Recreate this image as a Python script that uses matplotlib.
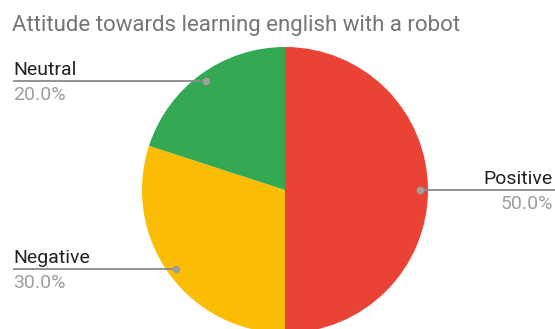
import matplotlib.pyplot as plt
import numpy as np

# ── Data ──────────────────────────────────────────────────────
labels  = ["Positive", "Negative", "Neutral"]
values  = [50.0, 30.0, 20.0]
colors  = ["#EA4335", "#FBBC04", "#34A853"]

W, H   = 555, 329
CX, CY = 285, H - 190
R      = 143

plt.rcParams["font.family"] = ["Roboto", "DejaVu Sans"]

fig = plt.figure(figsize=(W / 100, H / 100), dpi=100)
ax = fig.add_axes([0, 0, 1, 1])

wedges, _ = ax.pie(values, colors=colors, startangle=90, counterclock=False,
                   center=(CX, CY), radius=R,
                   wedgeprops=dict(linewidth=0))

ax.set_xlim(0, W)
ax.set_ylim(0, H)
ax.set_aspect("equal")
ax.axis("off")

# ── Leader lines + labels ─────────────────────────────────────
total = sum(values)
start = 90.0
for lab, val in zip(labels, values):
    sweep = 360 * val / total
    mid = np.deg2rad(start - sweep / 2)
    start -= sweep
    px = CX + 0.945 * R * np.cos(mid)
    py = CY + 0.945 * R * np.sin(mid)
    if px > CX:
        x_end, ha, tx = W, "right", W - 2
    else:
        x_end, ha, tx = 13, "left", 13
    ax.plot([px, x_end], [py, py], color="#8a8a8a", lw=1.3, solid_capstyle="butt")
    ax.plot(px, py, "o", ms=5.5, color="#9e9e9e", mec="none")
    ax.text(tx, py + 6, lab, ha=ha, va="baseline", fontsize=14, color="#222222")
    ax.text(tx, py - 19, f"{val:.1f}%", ha=ha, va="baseline", fontsize=14,
            color="#9e9e9e")

fig.text(12 / W, 1 - 31 / H, "Attitude towards learning english with a robot",
         ha="left", va="baseline", fontsize=16, color="#757575")

fig.savefig("out.png", dpi=100)
